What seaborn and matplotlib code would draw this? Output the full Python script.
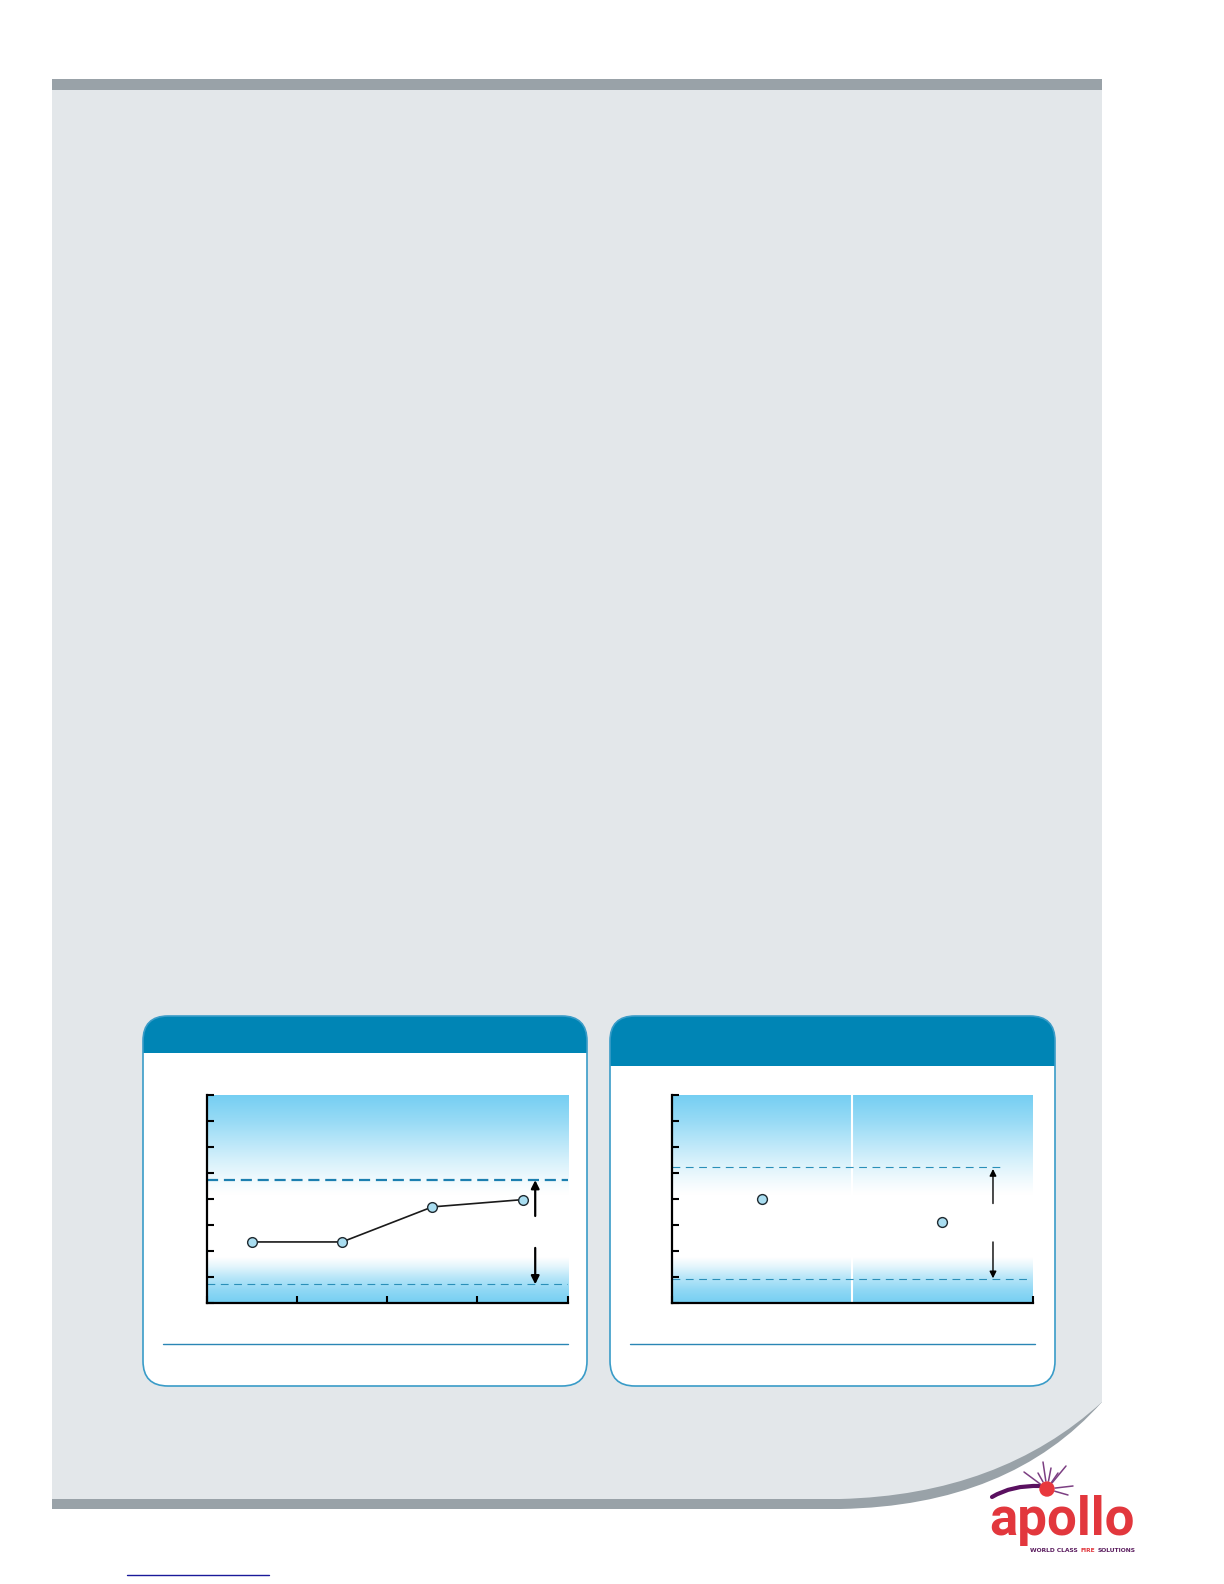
import numpy as np
import matplotlib
matplotlib.use('Agg')
import matplotlib.pyplot as plt
import seaborn as sns
from matplotlib.patches import FancyBboxPatch, Rectangle, PathPatch, Circle
from matplotlib.path import Path

# chart 1 - four readings joined by a line
trend_x = [0.5, 1.5, 2.5, 3.5]
trend_y = [2.34, 2.34, 3.69, 3.97]
trend_upper = 4.72
trend_lower = 0.71
trend_arrow_x = 3.64
trend_arrow_up = (3.34, 4.72)
trend_arrow_down = (2.11, 0.71)

# chart 2 - two single readings
pair_x = [0.5, 1.5]
pair_y = [4.01, 3.12]
pair_upper = 5.22
pair_lower = 0.91
pair_arrow_x = 1.78
pair_arrow_up = (3.82, 5.15)
pair_arrow_down = (2.34, 0.94)

y_ticks = list(range(0, 9))

PANEL = '#e3e7ea'
BAND = '#99a2a8'
HEADER = '#0085b5'
EDGE = '#3a9cc8'
SKY = np.array([0.46, 0.81, 0.95])
RED = '#e2373d'
PURPLE = '#5b1d5f'

sns.set_theme(style='white')
plt.rcParams['font.family'] = ['DejaVu Sans']

fig = plt.figure(figsize=(12.24, 15.84), dpi=100)
fig.patch.set_facecolor('white')

# page layer in pixel coordinates
page = fig.add_axes([0, 0, 1, 1], zorder=0)
page.set_xlim(0, 1224)
page.set_ylim(1584, 0)
page.axis('off')

codes = [Path.MOVETO, Path.LINETO, Path.LINETO, Path.CURVE3, Path.CURVE3,
         Path.LINETO, Path.CLOSEPOLY]
dark = Path([(52, 79), (1102, 79), (1102, 1402), (1010, 1506), (840, 1509),
             (52, 1509), (52, 79)], codes)
light = Path([(52, 90), (1102, 90), (1102, 1402), (1000, 1495), (840, 1499),
              (52, 1499), (52, 90)], codes)
page.add_patch(PathPatch(dark, facecolor=BAND, edgecolor='none'))
page.add_patch(PathPatch(light, facecolor=PANEL, edgecolor='none'))


def draw_card(x0, x1, top, head_bottom, bottom, sep):
    card = FancyBboxPatch((x0, top), x1 - x0, bottom - top,
                          boxstyle='round,pad=0,rounding_size=25',
                          facecolor='white', edgecolor='none')
    page.add_patch(card)
    head = Rectangle((x0, top), x1 - x0, head_bottom - top,
                     facecolor=HEADER, edgecolor='none')
    page.add_patch(head)
    head.set_clip_path(card)
    page.add_patch(FancyBboxPatch((x0, top), x1 - x0, bottom - top,
                                  boxstyle='round,pad=0,rounding_size=25',
                                  facecolor='none', edgecolor=EDGE, lw=1.2))
    page.plot(sep, [1344, 1344], color='#2a86b5', lw=1.0)


draw_card(143, 587, 1016, 1053, 1386, [163, 568])
draw_card(610, 1055, 1016, 1066, 1386, [630, 1035])

# link underline
page.plot([127, 269], [1575, 1575], color='#1a1a9a', lw=1.0)

# logo
page.text(989, 1535, 'apollo', fontsize=38, fontweight='bold', color=RED,
          family=['Roboto', 'DejaVu Sans'], va='baseline', ha='left')
renderer = fig.canvas.get_renderer()
tx = 1030
for word, col in [('WORLD CLASS', PURPLE), ('FIRE', RED), ('SOLUTIONS', PURPLE)]:
    t = page.text(tx, 1552, word, fontsize=4.3, fontweight='bold', color=col, va='baseline')
    tx += t.get_window_extent(renderer).width + 2.5

sun = (1047, 1489)
for rx, ry in [(1024, 1472), (1038, 1473), (1043, 1462), (1051, 1468), (1066, 1466),
               (1058, 1473), (1073, 1486), (1068, 1495)]:
    d = np.hypot(rx - sun[0], ry - sun[1])
    sx = sun[0] + (rx - sun[0]) * 8 / d
    sy = sun[1] + (ry - sun[1]) * 8 / d
    page.plot([sx, rx], [sy, ry], color='#7c3f82', lw=1.1, solid_capstyle='round')
swoosh = Path([(992, 1497), (1012, 1485), (1040, 1486)], [Path.MOVETO, Path.CURVE3, Path.CURVE3])
page.add_patch(PathPatch(swoosh, facecolor='none', edgecolor='#5a1060', lw=3, capstyle='round'))
page.add_patch(Circle(sun, 7, color='#e8383d', zorder=3))


def sky_image():
    ys = np.linspace(0, 8, 400)
    alpha = np.interp(ys, [0, 0.5, 1.0, 1.4, 1.75, 4.2, 4.8, 5.5, 6.0, 7.0, 8.0],
                      [1.0, 0.8, 0.5, 0.2, 0.0, 0.0, 0.12, 0.3, 0.45, 0.75, 1.0])
    img = np.ones((len(ys), 1, 3))
    img[:, 0, :] = 1 - alpha[:, None] * (1 - SKY)
    return img


def style_axes(ax, xmax, xticks):
    ax.set_facecolor('none')
    ax.imshow(sky_image(), extent=[0, xmax, 0, 8], origin='lower', aspect='auto', zorder=0)
    ax.set_xlim(0, xmax)
    ax.set_ylim(0, 8)
    ax.set_yticks(y_ticks)
    ax.set_xticks(xticks)
    ax.tick_params(direction='in', length=5, width=1.5, color='black',
                   labelleft=False, labelbottom=False, left=True, bottom=True)
    sns.despine(ax=ax)
    for s in ['left', 'bottom']:
        ax.spines[s].set_color('black')
        ax.spines[s].set_linewidth(1.6)
    ax.set_xlabel('')
    ax.set_ylabel('')


# chart 1
ax1 = fig.add_axes([206.7 / 1224, 1 - 1302.7 / 1584, 361 / 1224, 207.7 / 1584], zorder=2)
style_axes(ax1, 4, [0, 1, 2, 3, 4])
ax1.axhline(trend_upper, color='#1c7fb0', lw=1.6, dashes=(5, 2.6), zorder=1)
ax1.axhline(trend_lower, color='#2a8fb8', lw=0.8, dashes=(7, 5), zorder=1)
sns.lineplot(x=trend_x, y=trend_y, ax=ax1, color='#1a1a1a', lw=1.2, marker='o',
             markersize=7, markerfacecolor='#a9ddf0', markeredgecolor='#1f2a30',
             markeredgewidth=1.0, zorder=3)
ax1.annotate('', xy=(trend_arrow_x, trend_arrow_up[1]), xytext=(trend_arrow_x, trend_arrow_up[0]),
             arrowprops=dict(arrowstyle='-|>', color='black', lw=1.6, mutation_scale=12,
                             shrinkA=0, shrinkB=0))
ax1.annotate('', xy=(trend_arrow_x, trend_arrow_down[1]), xytext=(trend_arrow_x, trend_arrow_down[0]),
             arrowprops=dict(arrowstyle='-|>', color='black', lw=1.6, mutation_scale=12,
                             shrinkA=0, shrinkB=0))

# chart 2
ax2 = fig.add_axes([671.7 / 1224, 1 - 1302.7 / 1584, 361 / 1224, 207.7 / 1584], zorder=2)
style_axes(ax2, 2, [0, 2])
ax2.axvline(1, color='white', lw=1.5, zorder=1)
ax2.axhline(pair_upper, xmax=0.923, color='#2a8fb8', lw=0.8, dashes=(7, 5), zorder=1)
ax2.axhline(pair_lower, xmax=0.983, color='#2a8fb8', lw=0.8, dashes=(7, 5), zorder=1)
sns.scatterplot(x=pair_x, y=pair_y, ax=ax2, s=50, color='#a9ddf0', edgecolor='#1f2a30',
                linewidth=1.0, zorder=3)
ax2.annotate('', xy=(pair_arrow_x, pair_arrow_up[1]), xytext=(pair_arrow_x, pair_arrow_up[0]),
             arrowprops=dict(arrowstyle='-|>', color='black', lw=1.0, mutation_scale=10,
                             shrinkA=0, shrinkB=0))
ax2.annotate('', xy=(pair_arrow_x, pair_arrow_down[1]), xytext=(pair_arrow_x, pair_arrow_down[0]),
             arrowprops=dict(arrowstyle='-|>', color='black', lw=1.0, mutation_scale=10,
                             shrinkA=0, shrinkB=0))

fig.savefig('out.png', dpi=100)
